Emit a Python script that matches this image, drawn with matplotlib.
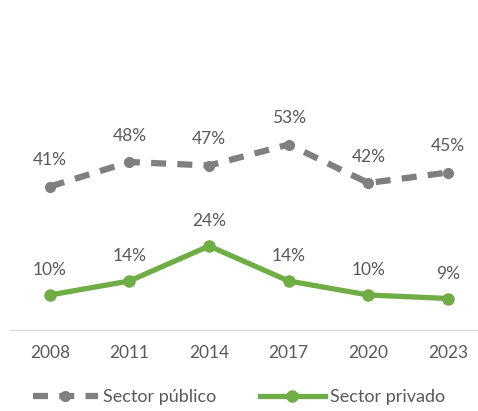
import matplotlib.pyplot as plt

anios = ["2008", "2011", "2014", "2017", "2020", "2023"]
publico = [41, 48, 47, 53, 42, 45]
privado = [10, 14, 24, 14, 10, 9]

gris = "#7f7f7f"
verde = "#70ad47"
texto = "#595959"

plt.rcParams['font.family'] = ['Lato', 'DejaVu Sans']

fig = plt.figure(figsize=(4.78, 4.11), dpi=100)
ax = fig.add_axes([10 / 478, 81 / 411, 468 / 478, 280 / 411])

x = list(range(len(anios)))
ax.plot(x, publico, color=gris, lw=4.5, ls=(0, (2.4, 1.8)), marker="o", ms=7,
        label="Sector público", solid_capstyle="butt")
ax.plot(x, privado, color=verde, lw=3.8, marker="o", ms=8, label="Sector privado")

for xi, v in zip(x, publico):
    ax.annotate(f"{v}%", (xi, v), xytext=(0, 13), textcoords="offset points",
                ha="center", va="bottom", fontsize=12.5, color=texto)
for xi, v in zip(x, privado):
    ax.annotate(f"{v}%", (xi, v), xytext=(0, 12), textcoords="offset points",
                ha="center", va="bottom", fontsize=12.5, color=texto)

ax.set_xlim(-0.5, 5 + 30 / 79.6)
ax.set_ylim(0, 80)
ax.set_xticks(x)
ax.set_xticklabels(anios, fontsize=12.5, color=texto)
ax.tick_params(axis="x", length=0, pad=11)
ax.set_yticks([])
for s in ["top", "right", "left"]:
    ax.spines[s].set_visible(False)
ax.spines["bottom"].set_color("#d9d9d9")

fig.legend(loc="lower center", bbox_to_anchor=(0.5, -0.025), ncol=2, frameon=False,
           fontsize=13, labelcolor=texto, handlelength=3.6, handletextpad=0.3,
           columnspacing=2.4)

fig.savefig("out.png", dpi=100)
